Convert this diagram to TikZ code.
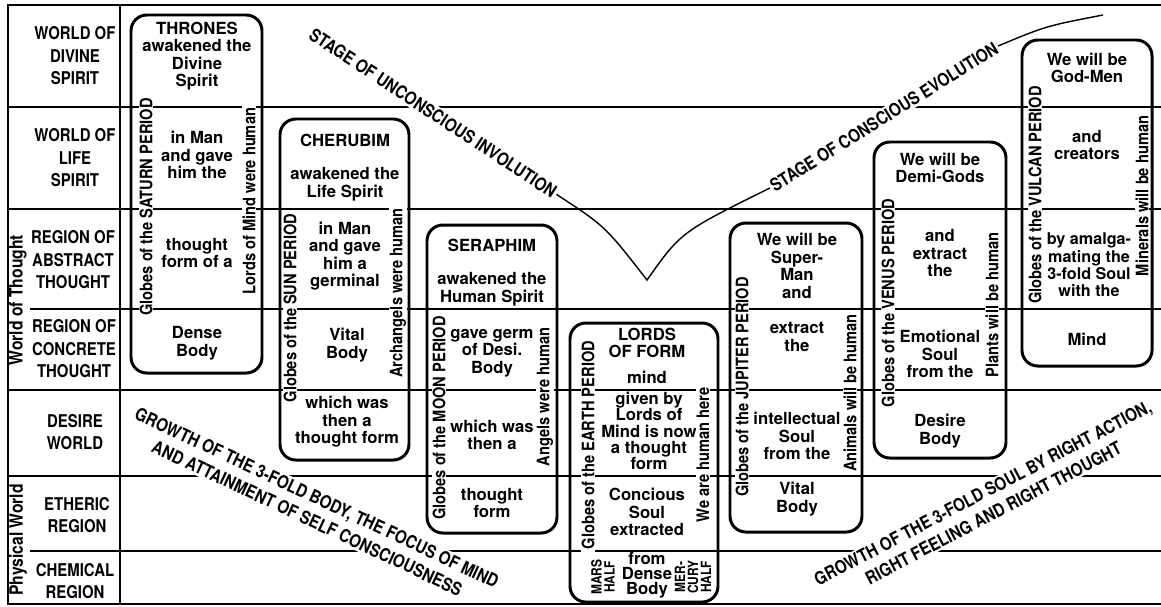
\documentclass[tikz,border=0pt]{standalone}
\usepackage{fontspec}
\setmainfont{TeX Gyre Heros}
\newfontfamily\condfont{TeX Gyre Heros}[FakeStretch=0.85]
\usetikzlibrary{fit}
\tikzset{
  gridline/.style={line width=0.9pt},
  trace/.style={line width=0.8pt},
  period/.style={draw, line width=1.7pt, rounded corners=9pt, inner sep=0pt},
  cell/.style={align=center, inner sep=0pt, font=\fontsize{9.5}{10}\selectfont\bfseries},
  globes/.style={rotate=90, fill=white, inner xsep=2pt, inner ysep=0.5pt,
                 font=\condfont\fontsize{9.8}{10}\selectfont\bfseries},
  plane/.style={align=center, inner sep=0pt, font=\condfont\fontsize{10}{12.8}\selectfont\bfseries},
  realm/.style={rotate=90, inner sep=0pt, font=\condfont\fontsize{10.5}{11}\selectfont\bfseries},
  stage/.style={fill=white, align=center, inner sep=1pt,
                font=\condfont\fontsize{10.2}{13}\selectfont\bfseries},
  halfway/.style={rotate=90, align=center, inner sep=0pt, font=\condfont\fontsize{8}{7.4}\selectfont\bfseries}
}
\begin{document}
\begin{tikzpicture}[x=0.02cm, y=-0.02cm]
  \useasboundingbox (0,0) rectangle (1161,606);
  \fill[white] (0,0) rectangle (1161,606);
  \draw[gridline] (120,5) -- (120,604);
  \foreach \y in {107,209,390,476}
    \draw[gridline] (8,\y) -- (1161,\y);
  \foreach \y in {309,551}
    \draw[gridline] (30,\y) -- (1161,\y);

  \node[plane] (divine) at (75,56) {WORLD OF\\DIVINE\\SPIRIT};
  \node[plane] (life) at (75,158) {WORLD OF\\LIFE\\SPIRIT};
  \node[plane] (abstract) at (73,260) {REGION OF\\ABSTRACT\\THOUGHT};
  \node[plane] (concrete) at (74,349) {REGION OF\\CONCRETE\\THOUGHT};
  \node[plane] (desire) at (75,432) {DESIRE\\WORLD};
  \node[plane] (etheric) at (77,515) {ETHERIC\\REGION};
  \node[plane] (chemical) at (75,581) {CHEMICAL\\REGION};
  \node[realm] (thought) at (18,300) {World of Thought};
  \node[realm] (physical) at (18,540) {Physical World};

  \node[stage, rotate=-33.4] (invol) at (433,113) {STAGE OF UNCONSCIOUS INVOLUTION};
  \node[stage, rotate=31.9] (evol) at (884,117) {STAGE OF CONSCIOUS EVOLUTION};
  \node[stage, rotate=-25.2] (bodygrowth) at (312,508)
    {GROWTH OF THE 3-FOLD BODY, THE FOCUS OF MIND\\AND ATTAINMENT OF SELF CONSCIOUSNESS};
  \node[stage, rotate=27.6] (soulgrowth) at (988,503)
    {GROWTH OF THE 3-FOLD SOUL BY RIGHT ACTION,\\RIGHT FEELING AND RIGHT THOUGHT};

  \draw[gridline] (1161,5) -- (8,5) -- (8,604) -- (1161,604);

  \node[period, fit={(131,15) (262,373)}] (saturn) {};
  \node[period, fit={(280,119) (409,460)}] (sun) {};
  \node[period, fit={(427,225) (557,533)}] (moon) {};
  \node[period, fit={(570,323) (718,602)}] (earth) {};
  \node[period, fit={(730,223) (862,532)}] (jupiter) {};
  \node[period, fit={(874,142) (1006,458)}] (venus) {};
  \node[period, fit={(1022,40) (1152,366)}] (vulcan) {};

  \node[cell] (sat1) at (197,56) {THRONES\\awakened the\\Divine\\Spirit};
  \node[cell] (sat2) at (197,155) {in Man\\and gave\\him the};
  \node[cell] (sat3) at (197,253) {thought\\form of a};
  \node[cell] (sat4) at (197,343) {Dense\\Body};
  \node[globes] (satL) at (146,207) {Globes of the SATURN PERIOD};
  \node[globes] (satR) at (249,201) {Lords of Mind were human};

  \node[cell] (sun1) at (345,140) {CHERUBIM};
  \node[cell] (sun2) at (345,184) {awakened the\\Life Spirit};
  \node[cell] (sun3) at (345,256) {in Man\\and gave\\him a\\germinal};
  \node[cell] (sun4) at (347,345) {Vital\\Body};
  \node[cell] (sun5) at (347,422) {which was\\then a\\thought form};
  \node[globes] (sunL) at (290,308) {Globes of the SUN PERIOD};
  \node[globes] (sunR) at (398,293) {Archangels were human};

  \node[cell] (moon1) at (492,245) {SERAPHIM};
  \node[cell] (moon2) at (492,289) {awakened the\\Human Spirit};
  \node[cell] (moon3) at (492,353) {gave germ\\of Desi.\\Body};
  \node[cell] (moon4) at (492,435) {which was\\then a};
  \node[cell] (moon5) at (492,503) {thought\\form};
  \node[globes] (moonL) at (439,418) {Globes of the MOON PERIOD};
  \node[globes] (moonR) at (545,397) {Angels were human};

  \node[cell] (ear1) at (647,343) {LORDS\\OF FORM};
  \node[cell] (ear2) at (647,377) {mind};
  \node[cell, font=\fontsize{9.5}{9.2}\selectfont\bfseries] (ear3) at (649,431)
    {given by\\Lords of\\Mind is now\\a thought\\form};
  \node[cell] (ear4) at (647,512) {Concious\\Soul\\extracted};
  \node[cell, font=\fontsize{9.5}{8.4}\selectfont\bfseries] (ear5) at (647,575) {from\\Dense\\Body};
  \node[halfway] (mars) at (603,577) {MARS\\HALF};
  \node[halfway] (mercury) at (693,577) {MER-\\CURY\\HALF};
  \node[globes] (earL) at (588,445) {Globes of the EARTH PERIOD};
  \node[globes] (earR) at (703,455) {We are human here};

  \node[cell] (jup1) at (797,266) {We will be\\Super-\\Man\\and};
  \node[cell] (jup2) at (797,337) {extract\\the};
  \node[cell] (jup3) at (797,436) {intellectual\\Soul\\from the};
  \node[cell] (jup4) at (797,499) {Vital\\Body};
  \node[globes] (jupL) at (742,387) {Globes of the JUPITER PERIOD};
  \node[globes] (jupR) at (850,393) {Animals will be human};

  \node[cell] (ven1) at (940,168) {We will be\\Demi-Gods};
  \node[cell] (ven2) at (940,253) {and\\extract\\the};
  \node[cell] (ven3) at (940,354) {Emotional\\Soul\\from the};
  \node[cell] (ven4) at (940,431) {Desire\\Body};
  \node[globes] (venL) at (888,303) {Globes of the VENUS PERIOD};
  \node[globes] (venR) at (992,305) {Plants will be human};

  \node[cell] (vul1) at (1087,68) {We will be\\God-Men};
  \node[cell] (vul2) at (1087,145) {and\\creators};
  \node[cell, font=\fontsize{9.2}{9.8}\selectfont\bfseries] (vul3) at (1089,265)
    {by amalga-\\mating the\\3-fold Soul\\with the};
  \node[cell] (vul4) at (1087,339) {Mind};
  \node[globes] (vulL) at (1035,195) {Globes of the VULCAN PERIOD};
  \node[globes] (vulR) at (1142,196) {Minerals will be human};

  \coordinate (tip) at (647,280);
  \coordinate (tail) at (1103,15);
  \draw[trace] (invol.east) .. controls (605,226) .. (tip) .. controls (681,232) .. (evol.west);
  \draw[trace] (evol.east) .. controls (1046,26) .. (tail);
\end{tikzpicture}
\end{document}
